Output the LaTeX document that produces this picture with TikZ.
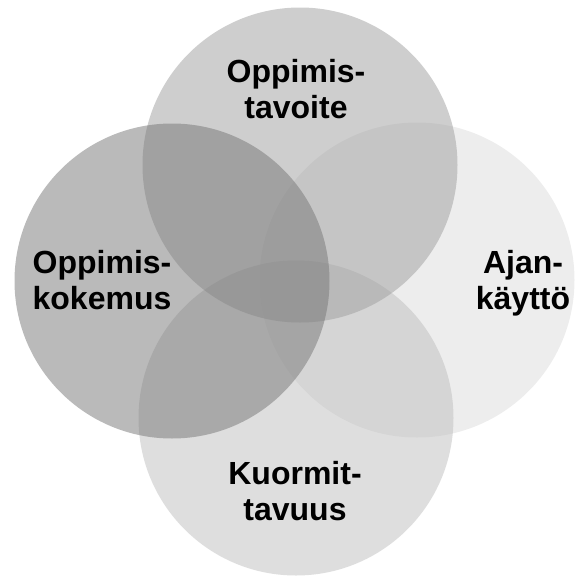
\documentclass[tikz,border=0pt]{standalone}
\usepackage{fontspec}
\setmainfont{Liberation Sans}
\tikzset{
  piiri/.style={circle, minimum size=315pt, inner sep=0pt, fill opacity=0.5},
  otsikko/.style={align=center, inner sep=0pt, anchor=base,
    font=\fontsize{32}{36}\selectfont\bfseries}
}
\begin{document}
\begin{tikzpicture}[x=1pt,y=-1pt]
      \useasboundingbox (0,0) rectangle (576,579);
      \draw
        (417,280) node[piiri, fill={rgb,1:red,0.86;green,0.86;blue,0.86}] (kaytto){}
        (296,418) node[piiri, fill={rgb,1:red,0.74;green,0.74;blue,0.74}] (kuorma){}
        (300,165) node[piiri, fill={rgb,1:red,0.62;green,0.62;blue,0.62}] (tavoite){}
        (172,281) node[piiri, fill={rgb,1:red,0.46;green,0.46;blue,0.46}] (kokemus){};
      \begin{scope}[every node/.style={otsikko}]
        \node (t1) at (296,118) {Oppimis-\\tavoite};
        \node (t2) at (102,309) {Oppimis-\\kokemus};
        \node (t3) at (523,309) {Ajan-\\käyttö};
        \node (t4) at (295,520) {Kuormit-\\tavuus};
      \end{scope}
    \end{tikzpicture}
\end{document}
